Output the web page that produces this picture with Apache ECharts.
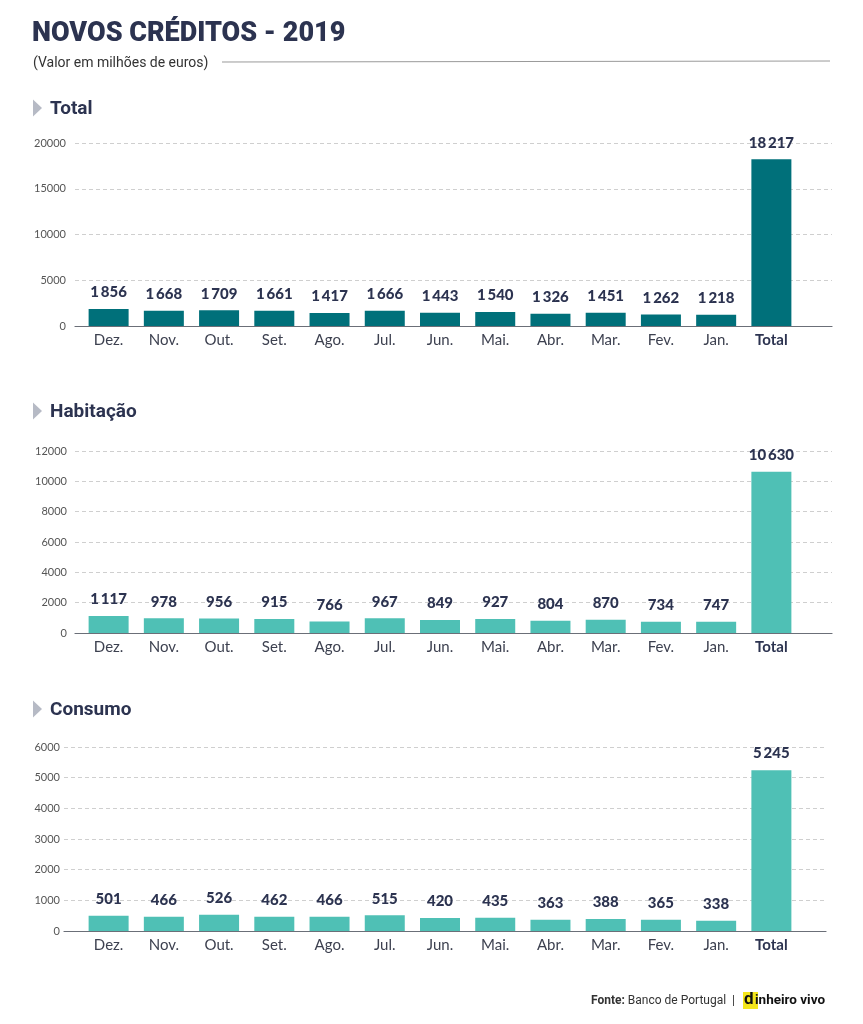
<!DOCTYPE html>
<html>
<head>
<meta charset="utf-8">
<script src="https://cdn.jsdelivr.net/npm/echarts@6/dist/echarts.min.js"></script>
<style>
html,body{margin:0;padding:0;background:#fff;}
#c{width:863px;height:1024px;}
</style>
</head>
<body>
<div id="c"></div>
<script>
// ---- data ----
var categories = ['Dez.','Nov.','Out.','Set.','Ago.','Jul.','Jun.','Mai.','Abr.','Mar.','Fev.','Jan.','Total'];
var totalValues = [1856,1668,1709,1661,1417,1666,1443,1540,1326,1451,1262,1218,18217];
var habitacaoValues = [1117,978,956,915,766,967,849,927,804,870,734,747,10630];
var consumoValues = [501,466,526,462,466,515,420,435,363,388,365,338,5245];
var totalTicks = {max:20000, interval:5000};
var habitacaoTicks = {max:12000, interval:2000};
var consumoTicks = {max:6000, interval:1000};
var sectionTitles = ['Total','Habitação','Consumo'];

// ---- layout ----
var NAVY = '#2c3350';
var panels = [
  {values: totalValues, ticks: totalTicks, color:'#00707a', top:143, h:183, left:75, right:832, labelMargin:9},
  {values: habitacaoValues, ticks: habitacaoTicks, color:'#4fc0b5', top:451, h:182, left:75, right:832, labelMargin:8},
  {values: consumoValues, ticks: consumoTicks, color:'#4fc0b5', top:747, h:184, left:64, right:826, labelMargin:4}
];
var W = 863, H = 1024;
var grids = [], xAxes = [], yAxes = [], series = [];
function fmt(v){
  var s = String(v);
  return s.replace(/\B(?=(\d{3})+(?!\d))/g, '\u2009');
}
panels.forEach(function(p, i){
  var bottom = H - (p.top + p.h);
  // background grid: y labels, dashed grid lines, axis line
  grids.push({left:p.left, right:W - p.right, top:p.top, bottom:bottom, containLabel:false});
  var gA = grids.length - 1;
  xAxes.push({type:'value', gridIndex:gA, min:0, max:1, show:true,
    axisLine:{show:true, lineStyle:{color:'#6b6f78', width:1.2}},
    axisTick:{show:false}, axisLabel:{show:false}, splitLine:{show:false}});
  yAxes.push({type:'value', gridIndex:gA, min:0, max:p.ticks.max, interval:p.ticks.interval,
    axisLine:{show:false}, axisTick:{show:false},
    axisLabel:{color:'#555', fontFamily:'Lato', fontSize:11, margin:p.labelMargin,
      formatter:function(v){ return String(v); }},
    splitLine:{show:true, lineStyle:{color:'#cfcfcf', type:[4,3], width:1}}});
  // bar grid
  grids.push({left:81, right:W - 799, top:p.top, bottom:bottom, containLabel:false});
  var gB = grids.length - 1;
  xAxes.push({type:'category', gridIndex:gB, data:categories,
    axisLine:{show:false}, axisTick:{show:false},
    axisLabel:{interval:0, margin:7, fontFamily:'Lato', fontSize:15, color:'#3d4150',
      formatter:function(v){ return v === 'Total' ? '{b|' + v + '}' : v; },
      rich:{b:{fontFamily:'Lato', fontWeight:'bold', fontSize:15, color:NAVY}}}});
  yAxes.push({type:'value', gridIndex:gB, min:0, max:p.ticks.max, interval:p.ticks.interval, show:false, splitLine:{show:false}});
  series.push({type:'bar', xAxisIndex:xAxes.length-1, yAxisIndex:yAxes.length-1,
    data:p.values, barWidth:40, itemStyle:{color:p.color},
    label:{show:true, position:'top', distance:9, fontFamily:'Lato', fontWeight:900, fontSize:15, color:NAVY,
      formatter:function(o){ return fmt(o.value); }},
    silent:true, animation:false});
});

function tri(y){
  return {type:'polygon', shape:{points:[[33,y-8.5],[33,y+8.5],[42,y]]}, style:{fill:'#b6bac5'}};
}
function sect(text, y){
  return {type:'text', left:50, top:y-8, style:{text:text, fontFamily:'Roboto', fontWeight:'bold', fontSize:19, fill:NAVY}};
}
var graphics = [
  {type:'text', left:32, top:21, style:{text:'NOVOS CRÉDITOS - 2019', fontFamily:'Roboto', fontWeight:900, fontSize:27, fill:NAVY}},
  {type:'text', left:33, top:56, style:{text:'(Valor em milhões de euros)', fontFamily:'Roboto', fontSize:14, fill:'#333'}},
  {type:'line', shape:{x1:222, y1:62, x2:830, y2:61}, style:{stroke:'#9a9a9a', lineWidth:1}},
  tri(108), sect(sectionTitles[0], 108),
  tri(411), sect(sectionTitles[1], 411),
  tri(709), sect(sectionTitles[2], 709),
  {type:'text', left:591, top:995, style:{text:'{b|Fonte:} Banco de Portugal  |', fontFamily:'Roboto', fontSize:12, fill:'#333',
     rich:{b:{fontFamily:'Roboto', fontWeight:'bold', fontSize:12, fill:'#333'}}}},
  {type:'rect', shape:{x:743, y:992, width:15, height:17}, style:{fill:'#f4e61b'}},
  {type:'text', left:744, top:991, style:{text:'d', fontFamily:'Roboto', fontWeight:'bold', fontSize:17, fill:'#111'}},
  {type:'text', left:755, top:994, style:{text:'inheiro vivo', fontFamily:'Roboto', fontWeight:'bold', fontSize:13.5, fill:'#111'}}
];

var chart = echarts.init(document.getElementById('c'), null, {renderer:'canvas'});
chart.setOption({
  animation:false,
  backgroundColor:'#fff',
  grid:grids, xAxis:xAxes, yAxis:yAxes, series:series,
  graphic:graphics
});
</script>
</body>
</html>
